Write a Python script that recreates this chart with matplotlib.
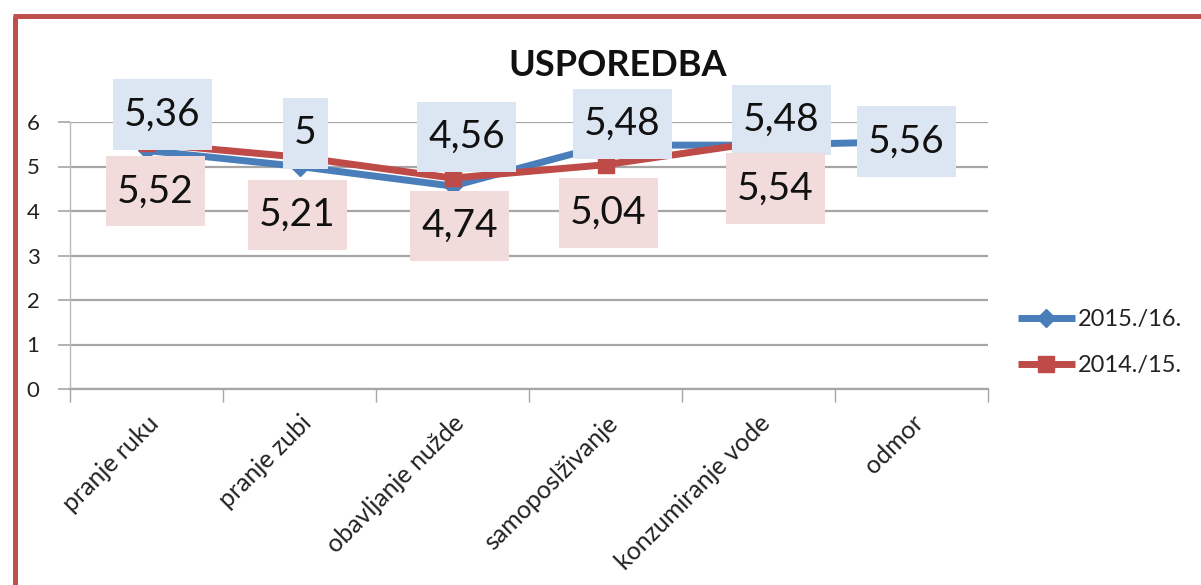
import numpy as np
import matplotlib
matplotlib.use("Agg")
import matplotlib.pyplot as plt
from matplotlib.lines import Line2D
from matplotlib.path import Path

# ---- data ----
categories = ["pranje ruku", "pranje zubi", "obavljanje nužde", "samoposlživanje",
              "konzumiranje vode", "odmor"]
series_names = ["2015./16.", "2014./15."]
values_1516 = [5.36, 5.0, 4.56, 5.48, 5.48, 5.56]
values_1415 = [5.52, 5.21, 4.74, 5.04, 5.54, np.nan]
label_1516 = ["5,36", "5", "4,56", "5,48", "5,48", "5,56"]
label_1415 = ["5,52", "5,21", "4,74", "5,04", "5,54", ""]
yticks = [0, 1, 2, 3, 4, 5, 6]
title = "USPOREDBA"

# ---- layout / style ----
W, H = 1201, 585
plt.rcParams['font.family'] = ['Lato', 'DejaVu Sans']
BLUE = "#4A7EBB"
RED = "#BE4B48"
BLUE_BOX = "#DCE6F2"
RED_BOX = "#F2DCDB"
GRID = "#A6A6A6"

off_1516 = [(16, 36), (6, 33), (14, 49), (17, 21), (23, 25), (-5, 0)]
off_1415 = [(9, -48), (-2, -58), (7, -48), (3, -48), (17, -46), (0, 0)]


def label_box(x0, y0, width, height, mutation_size):
    px = 0.28 * mutation_size
    py = 0.44 * mutation_size
    xa, xb = x0 - px, x0 + width + px
    ya, yb = y0 - py, y0 + height + py
    return Path([(xa, ya), (xb, ya), (xb, yb), (xa, yb), (xa, ya)], closed=True)


fig = plt.figure(figsize=(W / 100, H / 100), dpi=100)
fig.patch.set_facecolor("white")

ax = fig.add_axes([70 / W, 1 - 389 / H, 918 / W, 267 / H])
x = np.arange(len(categories))

l1, = ax.plot(x, values_1516, color=BLUE, lw=5, marker="D", markersize=9,
              solid_capstyle="butt", zorder=3, label=series_names[0])
l2, = ax.plot(x, values_1415, color=RED, lw=5, marker="s", markersize=12,
              solid_capstyle="butt", zorder=4, label=series_names[1])

for i, (v, t) in enumerate(zip(values_1516, label_1516)):
    ax.annotate(t, xy=(i, v), xytext=off_1516[i], textcoords="offset pixels",
                ha="center", va="center", fontsize=28, color="#111111", zorder=6,
                bbox=dict(boxstyle=label_box, fc=BLUE_BOX, ec="none"),
                annotation_clip=False)
for i, (v, t) in enumerate(zip(values_1415, label_1415)):
    if t == "" or np.isnan(v):
        continue
    ax.annotate(t, xy=(i, v), xytext=off_1415[i], textcoords="offset pixels",
                ha="center", va="center", fontsize=28, color="#111111", zorder=6,
                bbox=dict(boxstyle=label_box, fc=RED_BOX, ec="none"),
                annotation_clip=False)

ax.set_xlim(-0.5, len(categories) - 0.5)
ax.set_ylim(0, 6)
ax.set_yticks(yticks)
ax.set_yticklabels([str(t) for t in yticks], fontsize=16, color="#222222")
ax.yaxis.grid(True, color=GRID, lw=1.6, zorder=0)
ax.set_axisbelow(True)

ax.set_xticks(x)
ax.set_xticklabels(categories, rotation=45, ha="right", va="top",
                   rotation_mode="anchor", fontsize=18, color="#222222")
ax.set_xticks(np.arange(-0.5, len(categories)), minor=True)
ax.tick_params(axis="x", which="major", length=0, pad=16)
ax.tick_params(axis="x", which="minor", length=9, color=GRID, width=1)
ax.tick_params(axis="y", which="major", length=9, color=GRID, width=1.2, pad=13)

for s in ["top", "right"]:
    ax.spines[s].set_visible(False)
ax.spines["left"].set_color("#BBBBBB")
ax.spines["left"].set_linewidth(1)
ax.spines["bottom"].set_color(GRID)
ax.spines["bottom"].set_linewidth(1.6)
ax.set_facecolor("none")

fig.text(618 / W, 1 - 65 / H, title, ha="center", va="center",
         fontsize=26, fontweight="bold", color="#111111")

leg = fig.legend(handles=[l1, l2], loc="center left",
                 bbox_to_anchor=(1018 / W, 1 - 342.5 / H), frameon=False,
                 fontsize=17, handlelength=2.4, handletextpad=0.12,
                 labelspacing=1.05, borderpad=0, borderaxespad=0)
for t in leg.get_texts():
    t.set_color("#222222")

# red outer frame
fig.add_artist(Line2D([14.5 / W, 14.5 / W], [0, 1 - 15.5 / H], transform=fig.transFigure,
                      color="#C0504D", lw=3.6, solid_capstyle="butt"))
fig.add_artist(Line2D([12.7 / W, 1], [1 - 15.5 / H, 1 - 15.5 / H], transform=fig.transFigure,
                      color="#C0504D", lw=3.6, solid_capstyle="butt"))

fig.savefig("out.png", dpi=100)
